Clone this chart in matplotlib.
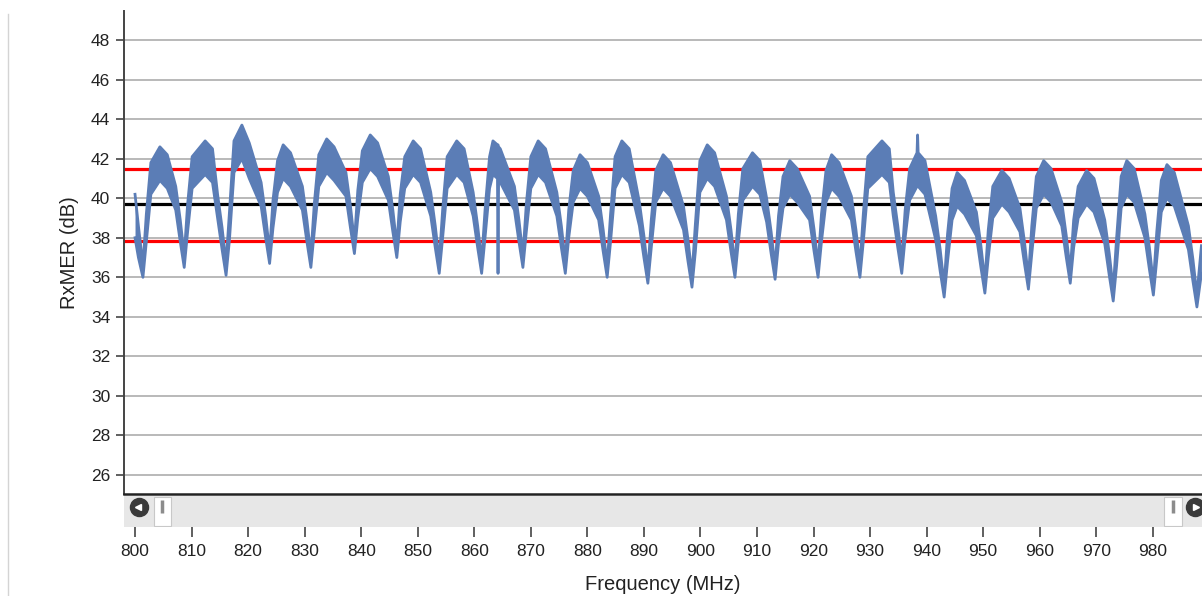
import matplotlib
matplotlib.use("Agg")
import matplotlib.pyplot as plt
from matplotlib.lines import Line2D
from matplotlib.patches import Rectangle

# knots along the RxMER trace: frequency, lower and upper edge of the noisy band
freq_mhz = [
    800.0, 800.6, 801.4,
    802.0, 802.8, 804.4, 805.7, 807.2, 808.0, 808.7,
    809.3, 810.1, 812.4, 813.7, 814.6, 815.4, 816.1,
    816.7, 817.5, 818.9, 820.2, 822.3, 823.1, 823.8,
    824.4, 825.2, 826.2, 827.5, 829.6, 830.4, 831.1,
    831.7, 832.5, 833.9, 835.2, 837.3, 838.1, 838.8,
    839.4, 840.2, 841.6, 842.9, 844.8, 845.6, 846.3,
    846.9, 847.7, 849.2, 850.5, 852.3, 853.1, 853.8,
    854.4, 855.2, 856.9, 858.2, 859.8, 860.6, 861.3,
    861.9, 862.7, 863.3, 864.1, 864.2, 864.3, 864.6, 867.1, 867.9, 868.6,
    869.2, 870.0, 871.3, 872.6, 874.6, 875.4, 876.1,
    876.7, 877.5, 878.7, 880.0, 882.0, 882.8, 883.5,
    884.1, 884.9, 886.1, 887.4, 889.2, 890.0, 890.7,
    891.3, 892.1, 893.4, 894.7, 897.0, 897.8, 898.5,
    899.1, 899.9, 901.2, 902.5, 904.6, 905.4, 906.1,
    906.7, 907.5, 909.2, 910.5, 911.7, 912.5, 913.2,
    913.8, 914.6, 915.8, 917.1, 919.3, 920.1, 920.8,
    921.4, 922.2, 923.2, 924.5, 926.7, 927.5, 928.2,
    928.8, 929.6, 932.1, 933.4, 934.1, 934.9, 935.6,
    936.2, 937.0, 938.3, 938.4, 938.5, 939.7, 941.6, 942.4, 943.1,
    943.7, 944.5, 945.4, 946.7, 948.8, 949.6, 950.3,
    950.9, 951.7, 953.3, 954.6, 956.5, 957.3, 958.0,
    958.6, 959.4, 960.7, 962.0, 963.9, 964.7, 965.4,
    966.0, 966.8, 968.3, 969.6, 971.5, 972.3, 973.0,
    973.6, 974.4, 975.4, 976.7, 978.6, 979.4, 980.1,
    980.7, 981.5, 982.5, 983.8, 986.3, 987.1, 987.8,
    988.6,
]
rxmer_lo = [
    38.0, 37.0, 36.0,
    37.8, 40.2, 40.9, 40.5, 39.4, 37.8, 36.5,
    38.3, 40.5, 41.2, 40.8, 39.0, 37.4, 36.1,
    37.9, 41.3, 42.0, 41.0, 39.6, 38.0, 36.7,
    38.5, 40.3, 41.0, 40.6, 39.4, 37.8, 36.5,
    38.3, 40.6, 41.3, 40.9, 40.1, 38.5, 37.2,
    39.0, 40.8, 41.5, 41.1, 39.9, 38.3, 37.0,
    38.8, 40.5, 41.2, 40.8, 39.1, 37.5, 36.2,
    38.0, 40.5, 41.2, 40.8, 39.1, 37.5, 36.2,
    38.0, 40.5, 41.2, 41.0, 36.2, 40.9, 40.8, 39.4, 37.8, 36.5,
    38.3, 40.5, 41.2, 40.8, 39.1, 37.5, 36.2,
    38.0, 39.8, 40.5, 40.1, 38.9, 37.3, 36.0,
    37.8, 40.5, 41.2, 40.8, 38.6, 37.0, 35.7,
    37.5, 39.8, 40.5, 40.1, 38.4, 36.8, 35.5,
    37.3, 40.3, 41.0, 40.6, 38.9, 37.3, 36.0,
    37.8, 39.9, 40.6, 40.2, 38.8, 37.2, 35.9,
    37.7, 39.5, 40.2, 39.8, 38.9, 37.3, 36.0,
    37.8, 39.8, 40.5, 40.1, 38.9, 37.3, 36.0,
    37.8, 40.5, 41.2, 40.8, 39.1, 37.5, 36.2,
    38.0, 39.9, 40.6, 40.6, 40.6, 40.2, 37.9, 36.3, 35.0,
    36.8, 38.9, 39.6, 39.2, 38.1, 36.5, 35.2,
    37.0, 39.0, 39.7, 39.3, 38.3, 36.7, 35.4,
    37.2, 39.5, 40.2, 39.8, 38.6, 37.0, 35.7,
    37.5, 39.0, 39.7, 39.3, 37.7, 36.1, 34.8,
    36.6, 39.5, 40.2, 39.8, 38.0, 36.4, 35.1,
    36.9, 39.3, 40.0, 39.6, 37.4, 35.8, 34.5,
    36.2,
]
rxmer_hi = [
    40.2, 38.6, 36.6,
    39.2, 41.8, 42.6, 42.2, 40.6, 38.9, 37.1,
    39.7, 42.1, 42.9, 42.5, 40.2, 38.5, 36.7,
    39.3, 42.9, 43.7, 42.8, 40.8, 39.1, 37.3,
    39.9, 41.9, 42.7, 42.3, 40.6, 38.9, 37.1,
    39.7, 42.2, 43.0, 42.6, 41.3, 39.6, 37.8,
    40.4, 42.4, 43.2, 42.8, 41.1, 39.4, 37.6,
    40.2, 42.1, 42.9, 42.5, 40.3, 38.6, 36.8,
    39.4, 42.1, 42.9, 42.5, 40.3, 38.6, 36.8,
    39.4, 42.1, 42.9, 42.7, 42.7, 42.6, 42.5, 40.6, 38.9, 37.1,
    39.7, 42.1, 42.9, 42.5, 40.3, 38.6, 36.8,
    39.4, 41.4, 42.2, 41.8, 40.1, 38.4, 36.6,
    39.2, 42.1, 42.9, 42.5, 39.8, 38.1, 36.3,
    38.9, 41.4, 42.2, 41.8, 39.6, 37.9, 36.1,
    38.7, 41.9, 42.7, 42.3, 40.1, 38.4, 36.6,
    39.2, 41.5, 42.3, 41.9, 40.0, 38.3, 36.5,
    39.1, 41.1, 41.9, 41.5, 40.1, 38.4, 36.6,
    39.2, 41.4, 42.2, 41.8, 40.1, 38.4, 36.6,
    39.2, 42.1, 42.9, 42.5, 40.3, 38.6, 36.8,
    39.4, 41.5, 42.3, 43.2, 42.3, 41.9, 39.1, 37.4, 35.6,
    38.2, 40.5, 41.3, 40.9, 39.3, 37.6, 35.8,
    38.4, 40.6, 41.4, 41.0, 39.5, 37.8, 36.0,
    38.6, 41.1, 41.9, 41.5, 39.8, 38.1, 36.3,
    38.9, 40.6, 41.4, 41.0, 38.9, 37.2, 35.4,
    38.0, 41.1, 41.9, 41.5, 39.2, 37.5, 35.7,
    38.3, 40.9, 41.7, 41.3, 38.6, 36.9, 35.1,
    37.6,
]

mean_db = 39.7
limits_db = [41.5, 37.85]

y_ticks = [26, 28, 30, 32, 34, 36, 38, 40, 42, 44, 46, 48]
x_ticks = [800, 810, 820, 830, 840, 850, 860, 870, 880, 890,
           900, 910, 920, 930, 940, 950, 960, 970, 980]

plt.rcParams['font.family'] = ['Liberation Sans', 'DejaVu Sans']

W, H = 1202, 596
fig = plt.figure(figsize=(W / 100, H / 100), dpi=100)


def box(x0, y0, x1, y1):
    # pixel box (top-left origin) -> figure fraction rect
    return [x0 / W, 1 - y1 / H, (x1 - x0) / W, (y1 - y0) / H]


ax = fig.add_axes(box(124, 11, 1202, 494))
bar = fig.add_axes(box(124, 496, 1202, 527), sharex=ax)

trace_col = '#5b7db6'
for y in limits_db:
    ax.axhline(y, color='#ff0000', lw=2.3, zorder=2)
ax.axhline(mean_db, color='black', lw=2.3, zorder=2)
ax.fill_between(freq_mhz, rxmer_lo, rxmer_hi, color=trace_col, lw=0, zorder=3)
ax.plot(freq_mhz, rxmer_hi, color=trace_col, lw=2.0, zorder=3)
ax.plot(freq_mhz, rxmer_lo, color=trace_col, lw=2.0, zorder=3)

ax.set_xlim(798.05, 988.7)
ax.set_ylim(25.04, 49.47)
ax.set_yticks(y_ticks)
ax.yaxis.grid(True, color='#a6a6a6', lw=1.1)
ax.set_axisbelow(True)
for s in ['top', 'right']:
    ax.spines[s].set_visible(False)
ax.spines['left'].set_color('#444444')
ax.spines['left'].set_linewidth(1.4)
ax.spines['bottom'].set_color('#222222')
ax.spines['bottom'].set_linewidth(1.8)
ax.tick_params(axis='y', length=6, width=1.2, color='#444444', pad=4,
               labelsize=12.5, labelcolor='#222222')
ax.tick_params(axis='x', bottom=False, labelbottom=False)
ax.set_ylabel('RxMER (dB)', fontsize=14.5, color='#222222')
ax.yaxis.set_label_coords(-0.042, 0.5)

# scroll bar strip under the plot
bar.set_facecolor('#e7e7e7')
for s in bar.spines.values():
    s.set_visible(False)
bar.set_yticks([])
bar.set_xticks(x_ticks)
bar.tick_params(axis='x', length=7, width=1.2, color='#444444', pad=5.5,
                labelsize=12.5, labelcolor='#222222')
bar.set_xlabel('Frequency (MHz)', fontsize=14.5, color='#222222')
bar.xaxis.set_label_coords(0.5, -1.55)

for x0, x1 in [(0.0278, 0.0436), (0.9648, 0.9814)]:
    bar.add_patch(Rectangle((x0, 0.02), x1 - x0, 0.96, transform=bar.transAxes,
                            facecolor='white', edgecolor='#c8c8c8', lw=0.8,
                            zorder=3))
    grip = (x0 + x1) / 2
    bar.plot([grip, grip], [0.45, 0.88], transform=bar.transAxes,
             color='#8c8c8c', lw=2.5, solid_capstyle='butt', zorder=4)

bar.plot([0.0139], [0.64], 'o', transform=bar.transAxes, ms=13,
         color='#3a3a3a', zorder=4, clip_on=False)
bar.plot([0.0129], [0.64], '<', transform=bar.transAxes, ms=5,
         color='white', zorder=5, clip_on=False)
bar.plot([0.9935], [0.64], 'o', transform=bar.transAxes, ms=13,
         color='#3a3a3a', zorder=4, clip_on=False)
bar.plot([0.9945], [0.64], '>', transform=bar.transAxes, ms=5,
         color='white', zorder=5, clip_on=False)

# faint page border on the left
fig.add_artist(Line2D([8 / W, 8 / W], [0, 1 - 14 / H], color='#d4d4d4', lw=1))

fig.savefig('out.png', dpi=100)
